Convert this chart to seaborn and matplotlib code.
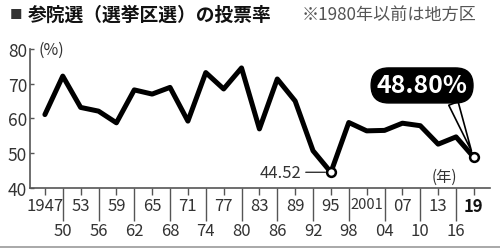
import matplotlib
matplotlib.use("Agg")
import matplotlib.pyplot as plt
import seaborn as sns
import pandas as pd
from matplotlib.lines import Line2D

years = [1947, 1950, 1953, 1956, 1959, 1962, 1965, 1968, 1971, 1974, 1977, 1980,
         1983, 1986, 1989, 1992, 1995, 1998, 2001, 2004, 2007, 2010, 2013, 2016, 2019]
turnout = [61.12, 72.19, 63.18, 62.11, 58.75, 68.22, 67.02, 68.94, 59.24, 73.20, 68.49, 74.54,
           57.00, 71.36, 65.02, 50.72, 44.52, 58.84, 56.44, 56.57, 58.64, 57.92, 52.61, 54.70, 48.80]

top_ticks = [1947, 1953, 1959, 1965, 1971, 1977, 1983, 1989, 1995, 2001, 2007, 2013, 2019]
top_labels = ["1947", "53", "59", "65", "71", "77", "83", "89", "95", "2001", "07", "13", "19"]
bottom_ticks = [1950, 1956, 1962, 1968, 1974, 1980, 1986, 1992, 1998, 2004, 2010, 2016]
bottom_labels = ["50", "56", "62", "68", "74", "80", "86", "92", "98", "04", "10", "16"]
y_ticks = [40, 50, 60, 70, 80]

highlight_years = [1995, 2019]

title = "参院選（選挙区選）の投票率"
note = "※1980年以前は地方区"

sns.set_style("white")
plt.rcParams['font.family'] = ['Noto Sans CJK JP', 'DejaVu Sans']

df = pd.DataFrame({"year": years, "turnout": turnout})
hl = df[df["year"].isin(highlight_years)]

fig = plt.figure(figsize=(5.0, 2.51), dpi=100)
ax = fig.add_axes([0.06, 0.247, 0.92, 0.554])

sns.lineplot(data=df, x="year", y="turnout", ax=ax, color="black", linewidth=3.6,
             solid_joinstyle="round", solid_capstyle="round")
sns.scatterplot(data=hl, x="year", y="turnout", ax=ax, s=40, color="white",
                edgecolor="black", linewidth=1.8, zorder=5)

ax.set_xlim(1944.5, 2021.7)
ax.set_ylim(40, 80)
ax.set_xlabel("")
ax.set_ylabel("")

for s in ["top", "right"]:
    ax.spines[s].set_visible(False)
for s in ["left", "bottom"]:
    ax.spines[s].set_color("#555555")
    ax.spines[s].set_linewidth(1.2)

txt = "#333333"
ax.set_yticks(y_ticks)
ax.set_yticklabels([str(v) for v in y_ticks])
ax.tick_params(axis="y", direction="in", length=3, width=1, color="#555555",
               pad=2, labelsize=12.5, labelcolor=txt, left=True)

ax.set_xticks(top_ticks)
ax.set_xticklabels(top_labels)
ax.set_xticks(bottom_ticks, minor=True)
ax.set_xticklabels(bottom_labels, minor=True)
ax.tick_params(axis="x", which="major", direction="out", length=5, width=1,
               color="#555555", pad=1.5, labelsize=12, labelcolor=txt, bottom=True)
ax.tick_params(axis="x", which="minor", direction="out", length=24, width=1,
               color="#555555", pad=0.5, labelsize=12, labelcolor=txt, bottom=True)
for lab in ax.get_xticklabels():
    if lab.get_text() == "19":
        lab.set_fontweight("bold")
        lab.set_color("#111111")
    if lab.get_text() == "2001":
        lab.set_fontsize(10.5)

ax.text(1946.0, 80, "(%)", fontsize=11.5, color=txt, ha="left", va="center")

# annotations
ax.annotate("44.52", xy=(1995, 44.52), xytext=(1990.0, 44.52), fontsize=12, color=txt,
            ha="right", va="center",
            arrowprops=dict(arrowstyle="-", color="#333333", lw=1, shrinkA=1, shrinkB=4))

ax.annotate("48.80%", xy=(2019, 48.80), xytext=(2010.3, 69.5), fontsize=18,
            fontweight="bold", color="white", ha="center", va="center",
            bbox=dict(boxstyle="round,pad=0.22,rounding_size=0.7", fc="black", ec="black"),
            arrowprops=dict(arrowstyle="wedge,tail_width=0.4,shrink_factor=0.5",
                            fc="white", ec="black", lw=1.2, shrinkA=0, shrinkB=5,
                            relpos=(0.82, 0.0)))

ax.text(2014.1, 43.3, "(年)", fontsize=11, color=txt, ha="center", va="center")

# title and note
fig.text(0.02, 0.94, "■", fontsize=9, color="#333333", ha="left", va="center")
fig.text(0.056, 0.94, title, fontsize=13.5, fontweight="bold", color="#111111",
         ha="left", va="center")
fig.text(0.604, 0.94, note, fontsize=12.3, color="#555555", ha="left", va="center")

fig.add_artist(Line2D([0, 1], [0.012, 0.012], color="#999999", lw=1.2,
                      transform=fig.transFigure))

fig.savefig("out.png", dpi=100, facecolor="white")
